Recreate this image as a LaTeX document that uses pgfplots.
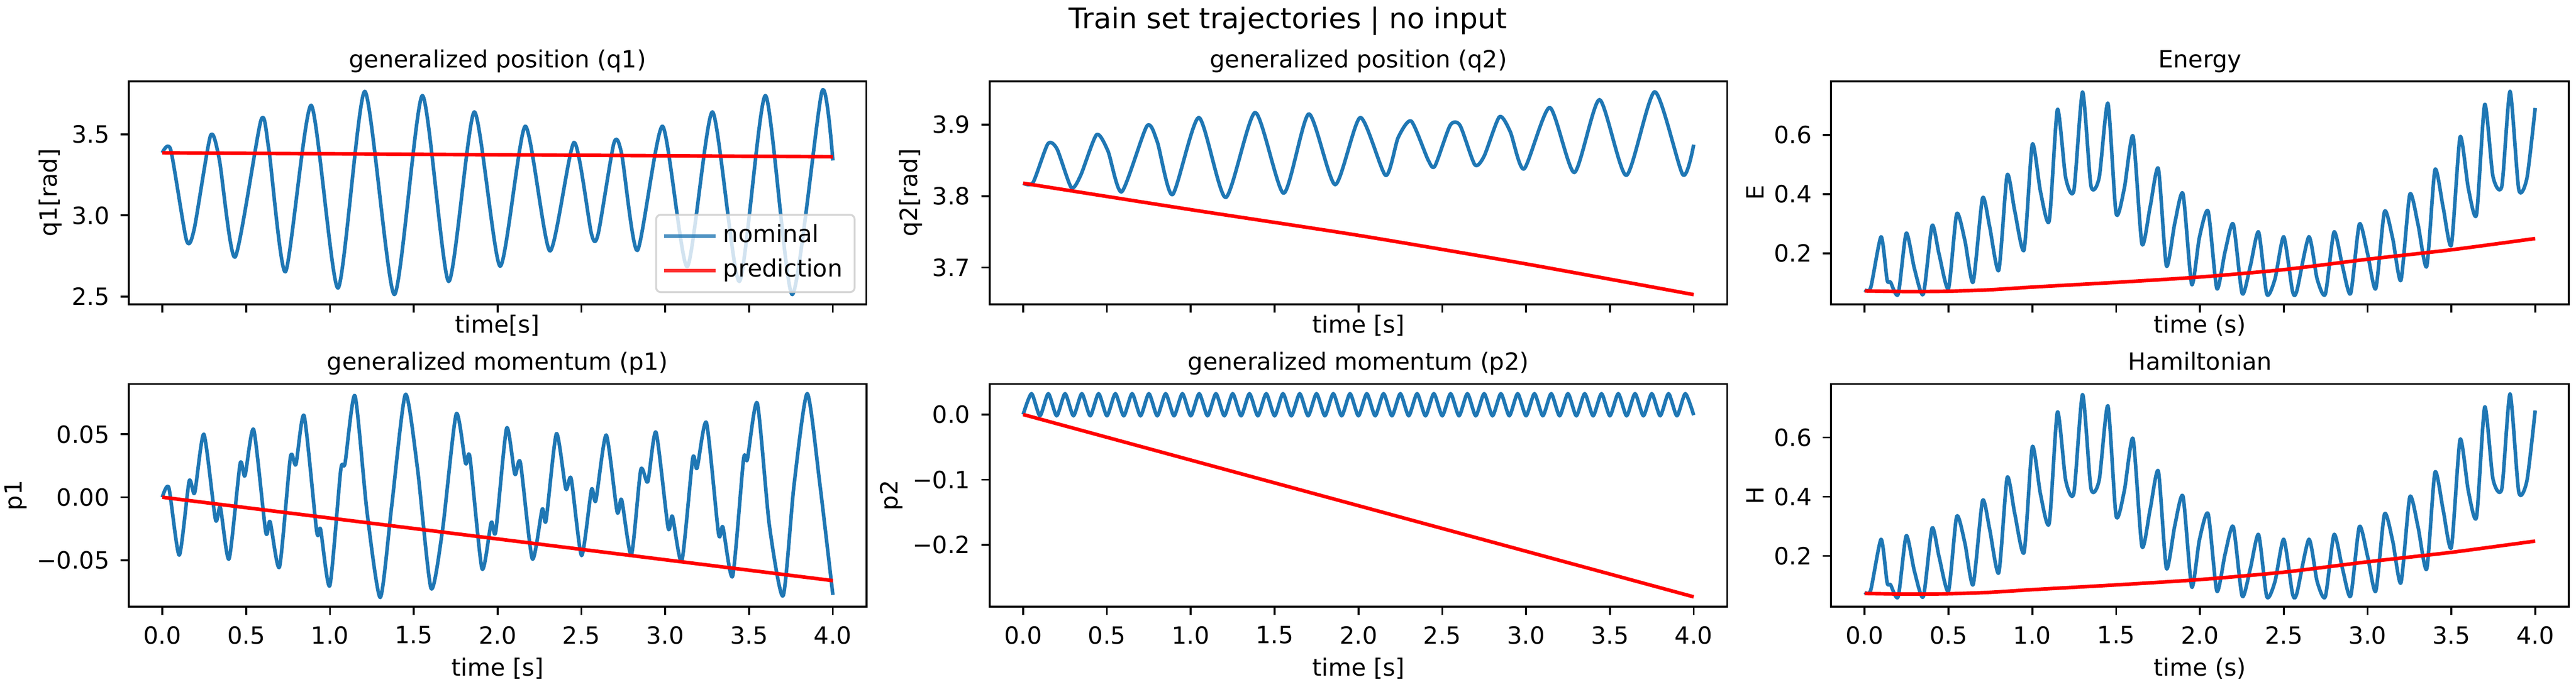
\documentclass[border=0pt]{standalone}
\usepackage{fontspec}
\setmainfont{DejaVu Sans}
\usepackage{pgfplots}
\pgfplotsset{compat=1.18}
\usepackage{pgfplotstable}
\definecolor{mplblue}{HTML}{1F77B4}
\definecolor{mplred}{HTML}{FF0000}

\pgfplotstableread{
t q
0.000 3.386
0.050 3.405
0.144 2.848
0.190 2.915
0.287 3.490
0.340 3.345
0.434 2.743
0.588 3.585
0.635 3.410
0.735 2.653
0.888 3.679
1.048 2.552
1.208 3.765
1.384 2.512
1.551 3.739
1.708 2.593
1.861 3.638
2.015 2.687
2.165 3.550
2.312 2.781
2.456 3.450
2.560 2.886
2.600 2.886
2.694 3.446
2.740 3.380
2.834 2.784
2.984 3.550
3.131 2.684
3.282 3.638
3.442 2.593
3.598 3.739
3.758 2.512
3.935 3.765
4.000 3.339
}\qonenom

\pgfplotstableread{
t q
0 3.386
4 3.362
}\qonepred

\pgfplotstableread{
t q
0.000 3.818
0.059 3.819
0.147 3.873
0.202 3.866
0.287 3.812
0.343 3.829
0.438 3.886
0.506 3.863
0.588 3.806
0.738 3.898
0.800 3.876
0.891 3.802
1.048 3.910
1.208 3.798
1.384 3.917
1.554 3.804
1.704 3.915
1.861 3.816
2.011 3.910
2.162 3.829
2.237 3.882
2.315 3.905
2.415 3.851
2.456 3.842
2.547 3.899
2.606 3.899
2.694 3.844
2.750 3.856
2.841 3.911
2.906 3.890
2.988 3.838
3.141 3.924
3.288 3.833
3.438 3.935
3.598 3.829
3.768 3.946
3.935 3.830
4.000 3.872
}\qtwonom

\pgfplotstableread{
t q
0 3.818
1 3.781
2 3.745
3 3.705
4 3.662
}\qtwopred

\pgfplotstableread{
t p
0.000 0.0000
0.039 0.0075
0.101 -0.0460
0.160 0.0127
0.193 0.0035
0.248 0.0500
0.317 -0.0177
0.346 -0.0080
0.398 -0.0490
0.464 0.0265
0.493 0.0170
0.545 0.0537
0.617 -0.0276
0.643 -0.0194
0.699 -0.0553
0.764 0.0317
0.797 0.0260
0.846 0.0646
0.921 -0.0272
0.944 -0.0255
0.999 -0.0702
1.064 0.0213
1.090 0.0270
1.149 0.0806
1.221 -0.0116
1.300 -0.0796
1.368 -0.0073
1.450 0.0816
1.522 0.0230
1.603 -0.0723
1.672 -0.0255
1.753 0.0660
1.809 0.0269
1.835 0.0317
1.907 -0.0567
1.962 -0.0200
1.989 -0.0272
2.054 0.0548
2.103 0.0182
2.136 0.0274
2.207 -0.0489
2.266 -0.0095
2.289 -0.0185
2.351 0.0504
2.407 0.0066
2.439 0.0147
2.501 -0.0463
2.560 0.0060
2.586 -0.0026
2.648 0.0494
2.713 -0.0116
2.740 -0.0020
2.798 -0.0459
2.854 0.0217
2.896 0.0123
2.945 0.0516
3.017 -0.0241
3.043 -0.0151
3.099 -0.0506
3.164 0.0308
3.190 0.0230
3.246 0.0591
3.318 -0.0289
3.344 -0.0237
3.402 -0.0627
3.467 0.0300
3.490 0.0300
3.549 0.0747
3.621 -0.0220
3.703 -0.0783
3.768 0.0092
3.847 0.0823
3.922 0.0109
4.000 -0.0775
}\ponenom

\pgfplotstableread{
t p
0 0.0
4 -0.0662
}\ponepred

\pgfplotstableread{
t p
0.00 0.000
0.05 0.032
0.10 -0.002
0.15 0.032
0.20 -0.002
0.25 0.032
0.30 -0.002
0.35 0.032
0.40 -0.002
0.45 0.032
0.50 -0.002
0.55 0.032
0.60 -0.002
0.65 0.032
0.70 -0.002
0.75 0.032
0.80 -0.002
0.85 0.032
0.90 -0.002
0.95 0.032
1.00 -0.002
1.05 0.032
1.10 -0.002
1.15 0.032
1.20 -0.002
1.25 0.032
1.30 -0.002
1.35 0.032
1.40 -0.002
1.45 0.032
1.50 -0.002
1.55 0.032
1.60 -0.002
1.65 0.032
1.70 -0.002
1.75 0.032
1.80 -0.002
1.85 0.032
1.90 -0.002
1.95 0.032
2.00 -0.002
2.05 0.032
2.10 -0.002
2.15 0.032
2.20 -0.002
2.25 0.032
2.30 -0.002
2.35 0.032
2.40 -0.002
2.45 0.032
2.50 -0.002
2.55 0.032
2.60 -0.002
2.65 0.032
2.70 -0.002
2.75 0.032
2.80 -0.002
2.85 0.032
2.90 -0.002
2.95 0.032
3.00 -0.002
3.05 0.032
3.10 -0.002
3.15 0.032
3.20 -0.002
3.25 0.032
3.30 -0.002
3.35 0.032
3.40 -0.002
3.45 0.032
3.50 -0.002
3.55 0.032
3.60 -0.002
3.65 0.032
3.70 -0.002
3.75 0.032
3.80 -0.002
3.85 0.032
3.90 -0.002
3.95 0.032
4.00 -0.001
}\ptwonom

\pgfplotstableread{
t p
0 0.0
4 -0.2797
}\ptwopred

\pgfplotstableread{
t e
0.000 0.077
0.036 0.084
0.098 0.256
0.134 0.110
0.154 0.103
0.200 0.062
0.248 0.268
0.297 0.148
0.350 0.062
0.402 0.294
0.444 0.197
0.500 0.081
0.549 0.333
0.598 0.243
0.647 0.103
0.703 0.386
0.745 0.292
0.800 0.143
0.850 0.464
0.895 0.344
0.951 0.212
1.000 0.568
1.049 0.408
1.101 0.310
1.150 0.686
1.199 0.456
1.248 0.412
1.300 0.745
1.350 0.428
1.399 0.456
1.451 0.707
1.500 0.335
1.549 0.420
1.601 0.596
1.654 0.232
1.703 0.357
1.752 0.486
1.800 0.158
1.850 0.302
1.899 0.401
1.951 0.095
1.997 0.254
2.049 0.342
2.101 0.081
2.150 0.206
2.199 0.299
2.252 0.064
2.301 0.158
2.350 0.272
2.399 0.062
2.448 0.114
2.500 0.256
2.552 0.073
2.578 0.073
2.650 0.256
2.699 0.114
2.748 0.062
2.800 0.272
2.850 0.158
2.899 0.064
2.951 0.299
3.000 0.199
3.049 0.081
3.101 0.341
3.150 0.250
3.199 0.109
3.252 0.399
3.301 0.298
3.353 0.156
3.402 0.482
3.451 0.355
3.500 0.229
3.552 0.593
3.601 0.420
3.650 0.331
3.699 0.703
3.748 0.460
3.801 0.427
3.850 0.747
3.902 0.416
3.951 0.455
4.000 0.691
}\enernom

\pgfplotstableread{
t e
0.00 0.073
0.25 0.071
0.50 0.072
0.75 0.077
1.00 0.086
1.50 0.102
2.00 0.120
2.50 0.145
3.00 0.180
3.50 0.212
4.00 0.250
}\enerpred

\pgfplotsset{
  mpl/.style={
    scale only axis, width=310.4pt, height=93.86pt,
    xmin=-0.2, xmax=4.2,
    axis line style={line width=0.8pt, black},
    tick align=outside, tick pos=left,
    major tick length=3.5pt,
    every tick/.append style={line width=0.8pt, black},
    xtick={0,0.5,1,1.5,2,2.5,3,3.5,4},
    scaled ticks=false,
    font=\fontsize{10}{12}\selectfont,
    tick label style={font=\fontsize{10}{12}\selectfont},
    xticklabel style={inner sep=0pt, anchor=north},
    yticklabel style={inner sep=0pt, anchor=east},
    xticklabel shift=4.45pt,
    yticklabel shift=4.45pt,
    ylabel style={font=\fontsize{10}{12}\selectfont, inner sep=0pt},
    ylabel shift=4pt,
    every axis title shift=0pt,
    title style={font=\fontsize{10}{12}\selectfont, at={(0.5,1)}, anchor=base, yshift=5.8pt},
    every axis plot/.append style={line width=1.5pt, line join=round},
  },
  toprow/.style={xticklabels={},
    xlabel style={at={(axis description cs:0.5,0)}, anchor=north, yshift=-4.2pt, inner sep=0pt, font=\fontsize{10}{12}\selectfont}},
  botrow/.style={xticklabels={0.0,0.5,1.0,1.5,2.0,2.5,3.0,3.5,4.0},
    xlabel style={at={(axis description cs:0.5,0)}, anchor=north, yshift=-21.3pt, inner sep=0pt, font=\fontsize{10}{12}\selectfont}},
  nomstyle/.style={mplblue, smooth, tension=0.4},
  predstyle/.style={mplred, smooth, tension=0.4},
}

\begin{document}
\begin{tikzpicture}
\path[use as bounding box] (0,0) rectangle (1084.05pt,289.08pt);
\node[anchor=base, font=\fontsize{12}{14}\selectfont] at (542.0pt,277.15pt) {Train set trajectories | no input};

% q1
\begin{axis}[mpl, toprow, at={(54.20pt,160.98pt)}, anchor=south west,
  ymin=2.452, ymax=3.827, ytick={2.5,3.0,3.5}, yticklabels={2.5,3.0,3.5},
  title={generalized position (q1)}, xlabel={time[s]}, ylabel={q1[rad]},
  legend style={at={(0.9854,0.050)}, anchor=south east, draw=black!20, draw opacity=0.8,
    fill=white, fill opacity=0.8, text opacity=1, rounded corners=2pt, line width=0.8pt,
    inner xsep=2.6pt, inner ysep=1.7pt, row sep=0pt,
    font=\fontsize{10}{12}\selectfont,
    nodes={inner xsep=2.5pt, inner ysep=2pt, text height=7.9pt, text depth=2.7pt}},
  legend cell align=left,
  legend image code/.code={\draw[#1, line width=1.5pt, sharp plot] (0pt,0pt) -- (21.7pt,0pt);},
]
\addplot[nomstyle] table[x=t, y=q] {\qonenom};
\addlegendentry{nominal}
\addplot[predstyle] table[x=t, y=q] {\qonepred};
\addlegendentry{prediction}
\end{axis}

% q2
\begin{axis}[mpl, toprow, at={(416.46pt,160.98pt)}, anchor=south west,
  ymin=3.6485, ymax=3.9607, ytick={3.7,3.8,3.9}, yticklabels={3.7,3.8,3.9},
  title={generalized position (q2)}, xlabel={time [s]}, ylabel={q2[rad]}]
\addplot[nomstyle] table[x=t, y=q] {\qtwonom};
\addplot[predstyle] table[x=t, y=q] {\qtwopred};
\end{axis}

% Energy
\begin{axis}[mpl, toprow, at={(770.58pt,160.98pt)}, anchor=south west,
  ymin=0.028, ymax=0.781, ytick={0.2,0.4,0.6}, yticklabels={0.2,0.4,0.6},
  title={Energy}, xlabel={time (s)}, ylabel={E}]
\addplot[nomstyle] table[x=t, y=e] {\enernom};
\addplot[predstyle] table[x=t, y=e] {\enerpred};
\end{axis}

% p1
\begin{axis}[mpl, botrow, at={(54.20pt,33.61pt)}, anchor=south west,
  ymin=-0.087, ymax=0.090, ytick={-0.05,0,0.05}, yticklabels={−0.05,0.00,0.05},
  title={generalized momentum (p1)}, xlabel={time [s]}, ylabel={p1}]
\addplot[nomstyle] table[x=t, y=p] {\ponenom};
\addplot[predstyle] table[x=t, y=p] {\ponepred};
\end{axis}

% p2
\begin{axis}[mpl, botrow, at={(416.46pt,33.61pt)}, anchor=south west,
  ymin=-0.295, ymax=0.047, ytick={-0.2,-0.1,0}, yticklabels={−0.2,−0.1,0.0},
  title={generalized momentum (p2)}, xlabel={time [s]}, ylabel={p2}]
\addplot[nomstyle] table[x=t, y=p] {\ptwonom};
\addplot[predstyle] table[x=t, y=p] {\ptwopred};
\end{axis}

% Hamiltonian
\begin{axis}[mpl, botrow, at={(770.58pt,33.61pt)}, anchor=south west,
  ymin=0.028, ymax=0.781, ytick={0.2,0.4,0.6}, yticklabels={0.2,0.4,0.6},
  title={Hamiltonian}, xlabel={time (s)}, ylabel={H}]
\addplot[nomstyle] table[x=t, y=e] {\enernom};
\addplot[predstyle] table[x=t, y=e] {\enerpred};
\end{axis}
\end{tikzpicture}
\end{document}
